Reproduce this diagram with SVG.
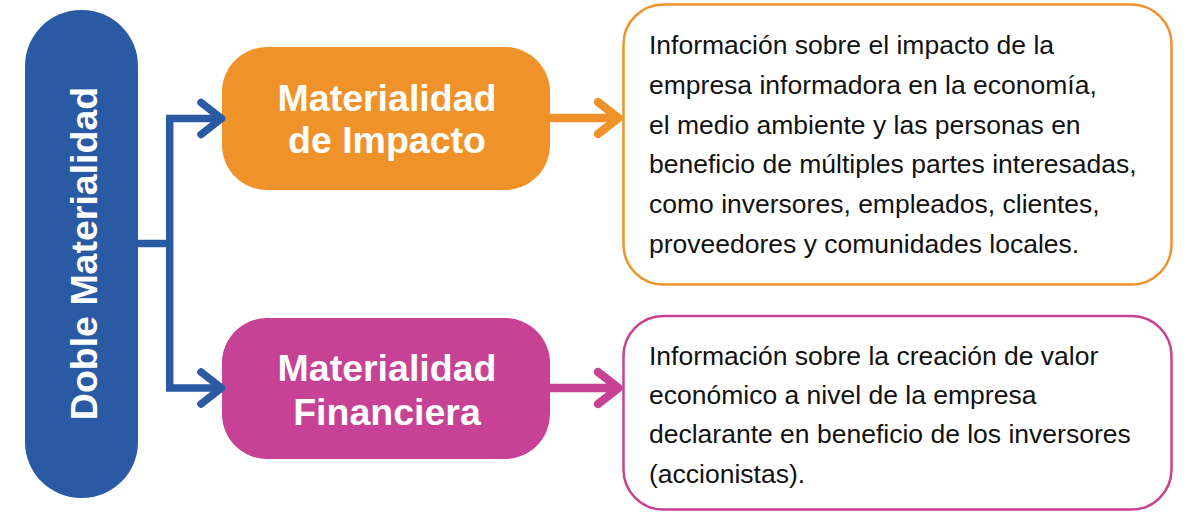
<svg xmlns="http://www.w3.org/2000/svg" width="1192" height="512" viewBox="0 0 1192 512">
<style>
.title{font-family:"Liberation Sans",Arial,sans-serif;font-weight:bold;font-size:37.5px;fill:#fff;text-anchor:middle}
.body{font-family:"Liberation Sans",Arial,sans-serif;font-size:26.5px;fill:#111}
.blue{stroke:#2A5AA3;fill:none;stroke-width:7.5}
.chev{stroke-linecap:round;stroke-linejoin:round;fill:none}
</style>
<rect width="1192" height="512" fill="#fff"/>
<g id="doble">
<rect x="25" y="10" width="113" height="488" rx="56" fill="#2A5AA3"/>
<text class="title" transform="translate(97,253.5) rotate(-90)">Doble Materialidad</text>
</g>
<g id="impacto">
<rect x="222" y="47" width="328" height="143" rx="45" fill="#EF922A"/>
<text class="title" x="387" y="110.7">Materialidad</text>
<text class="title" x="387" y="153">de Impacto</text>
</g>
<g id="financiera">
<rect x="222" y="318" width="328" height="141" rx="45" fill="#C74294"/>
<text class="title" x="387" y="380.7">Materialidad</text>
<text class="title" x="387" y="425">Financiera</text>
</g>
<g id="info-impacto">
<rect x="623.5" y="4.5" width="548" height="280" rx="40" fill="#fff" stroke="#EF922A" stroke-width="2.5"/>
<text class="body" x="649" y="54">Información sobre el impacto de la</text>
<text class="body" x="649" y="93.8">empresa informadora en la economía,</text>
<text class="body" x="649" y="133.6">el medio ambiente y las personas en</text>
<text class="body" x="649" y="173.4">beneficio de múltiples partes interesadas,</text>
<text class="body" x="649" y="213.2">como inversores, empleados, clientes,</text>
<text class="body" x="649" y="253">proveedores y comunidades locales.</text>
</g>
<g id="info-financiera">
<rect x="623.5" y="316" width="548" height="193.5" rx="40" fill="#fff" stroke="#C74294" stroke-width="2.5"/>
<text class="body" x="649" y="365">Información sobre la creación de valor</text>
<text class="body" x="649" y="403.6">económico a nivel de la empresa</text>
<text class="body" x="649" y="443">declarante en beneficio de los inversores</text>
<text class="body" x="649" y="482.5">(accionistas).</text>
</g>
<g id="connectors">
<path class="blue" d="M138 243.5 H169.7 M169.7 118.5 V388 M166 118.5 H220 M166 388 H220"/>
<path class="blue chev" d="M201 102.5 L221.5 118.5 L201 134.5 M201 372 L221.5 388 L201 404"/>
<path d="M550 118 H617" stroke="#EF922A" stroke-width="8.5" fill="none"/>
<path class="chev" d="M598 102 L618.5 118 L598 134" stroke="#EF922A" stroke-width="8.5"/>
<path d="M550 388 H617" stroke="#C74294" stroke-width="8.5" fill="none"/>
<path class="chev" d="M598 372 L618.5 388 L598 404" stroke="#C74294" stroke-width="8.5"/>
</g>
</svg>
